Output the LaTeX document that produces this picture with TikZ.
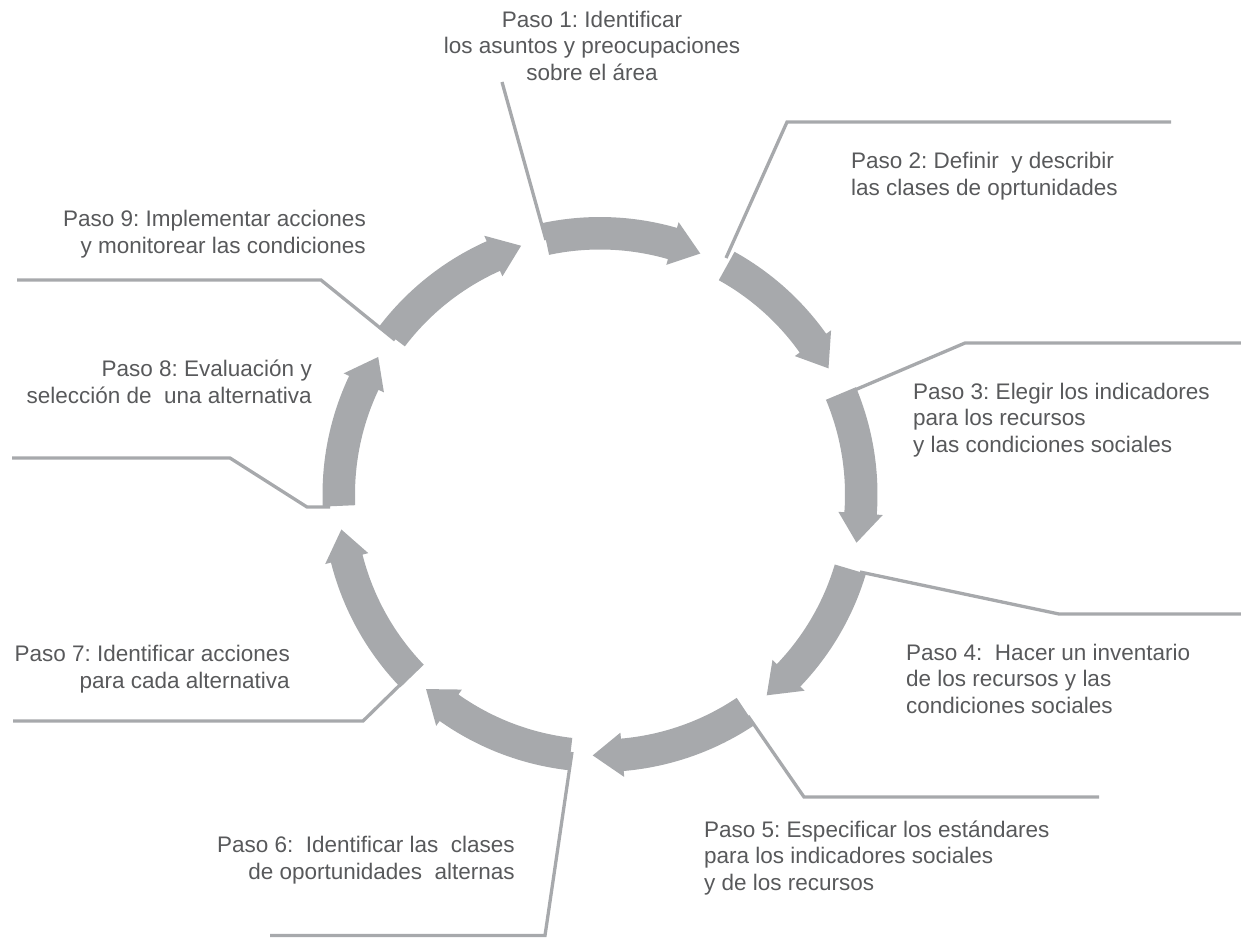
\documentclass[tikz,border=0pt]{standalone}
\usepackage{fontspec}
\setmainfont{Liberation Sans}
\usetikzlibrary{calc}
\definecolor{flecha}{HTML}{A7A9AC}
\definecolor{texto}{HTML}{58595B}
\frenchspacing
\begin{document}
\begin{tikzpicture}[x=1pt,y=-1pt,
    paso/.style={text=texto,inner sep=0pt,font=\fontsize{22.5}{26.5}\selectfont},
    guia/.style={draw=flecha,line width=3.3pt}]
    \useasboundingbox(0,0)rectangle(1241,938);
    \coordinate(O) at (600,494.5);
    \coordinate(A1) at (502,82);   \coordinate(B1) at (546,240);
    \coordinate(A2) at (1171,122); \coordinate(C2) at (787,122);  \coordinate(B2) at (726,258);
    \coordinate(A3) at (1241,343); \coordinate(C3) at (965,343);  \coordinate(B3) at (850,392);
    \coordinate(A4) at (1241,614); \coordinate(C4) at (1059,614); \coordinate(B4) at (860,572);
    \coordinate(A5) at (1099,797); \coordinate(C5) at (804,797);  \coordinate(B5) at (748,716);
    \coordinate(A6) at (270,935.5);\coordinate(C6) at (545,935.5);\coordinate(B6) at (572,752);
    \coordinate(A7) at (13,721);   \coordinate(C7) at (363,721);  \coordinate(B7) at (405,680);
    \coordinate(A8) at (12,458);   \coordinate(C8) at (230,458);  \coordinate(D8) at (307,507); \coordinate(B8) at (330,507);
    \coordinate(A9) at (17,280);   \coordinate(C9) at (321,280);  \coordinate(B9) at (395,340);
    \draw[guia](A1)--(B1);
    \draw[guia](A2)--(C2)--(B2);
    \draw[guia](A3)--(C3)--(B3);
    \draw[guia](A4)--(C4)--(B4);
    \draw[guia](A5)--(C5)--(B5);
    \draw[guia](A6)--(C6)--(B6);
    \draw[guia](A7)--(C7)--(B7);
    \draw[guia](A8)--(C8)--(D8)--(B8);
    \draw[guia](A9)--(C9)--(B9);
    \begin{scope}[shift={(O)},yscale=-1]
    \foreach \a/\b in {102/67.4,61/28.9,22.75/-10.65,-16.6/-50.3,-56.1/-91.6,-96.5/-131.8,-136/-172.3,-177.5/-211.8,-217.2/-252.4}
        \fill[flecha](\a:277.5) arc[start angle=\a,end angle=\b+6.5,radius=277.5]
            --({\b+6.5}:283.5)--(\b:261)--({\b+6.5}:239)--({\b+6.5}:245)
            arc[start angle=\b+6.5,end angle=\a,radius=245]--cycle;
    \end{scope}
    \node[paso,anchor=base,align=center](p1) at (592,80){Paso 1: Identificar\\los asuntos y preocupaciones\\sobre el área};
    \node[paso,anchor=base west,align=left](p2) at (851,195){Paso 2: Definir\ \ y describir\\las clases de oprtunidades};
    \node[paso,anchor=base west,align=left](p3) at (913,452){Paso 3: Elegir los indicadores\\para los recursos\\y las condiciones sociales};
    \node[paso,anchor=base west,align=left](p4) at (906,713){Paso 4:\ \ Hacer un inventario\\de los recursos y las\\condiciones sociales};
    \node[paso,anchor=base west,align=left](p5) at (704,890){Paso 5: Especificar los estándares\\para los indicadores sociales\\y de los recursos};
    \node[paso,anchor=base east,align=right](p6) at (515,879){Paso 6:\ \ Identificar las\ \ clases\\de oportunidades\ \ alternas};
    \node[paso,anchor=base east,align=right](p7) at (290,688){Paso 7: Identificar acciones\\para cada alternativa};
    \node[paso,anchor=base east,align=right](p8) at (312,403){Paso 8: Evaluación y\\selección de\ \ una alternativa};
    \node[paso,anchor=base east,align=right](p9) at (366,253){Paso 9: Implementar acciones\\y monitorear las condiciones};
\end{tikzpicture}
\end{document}
